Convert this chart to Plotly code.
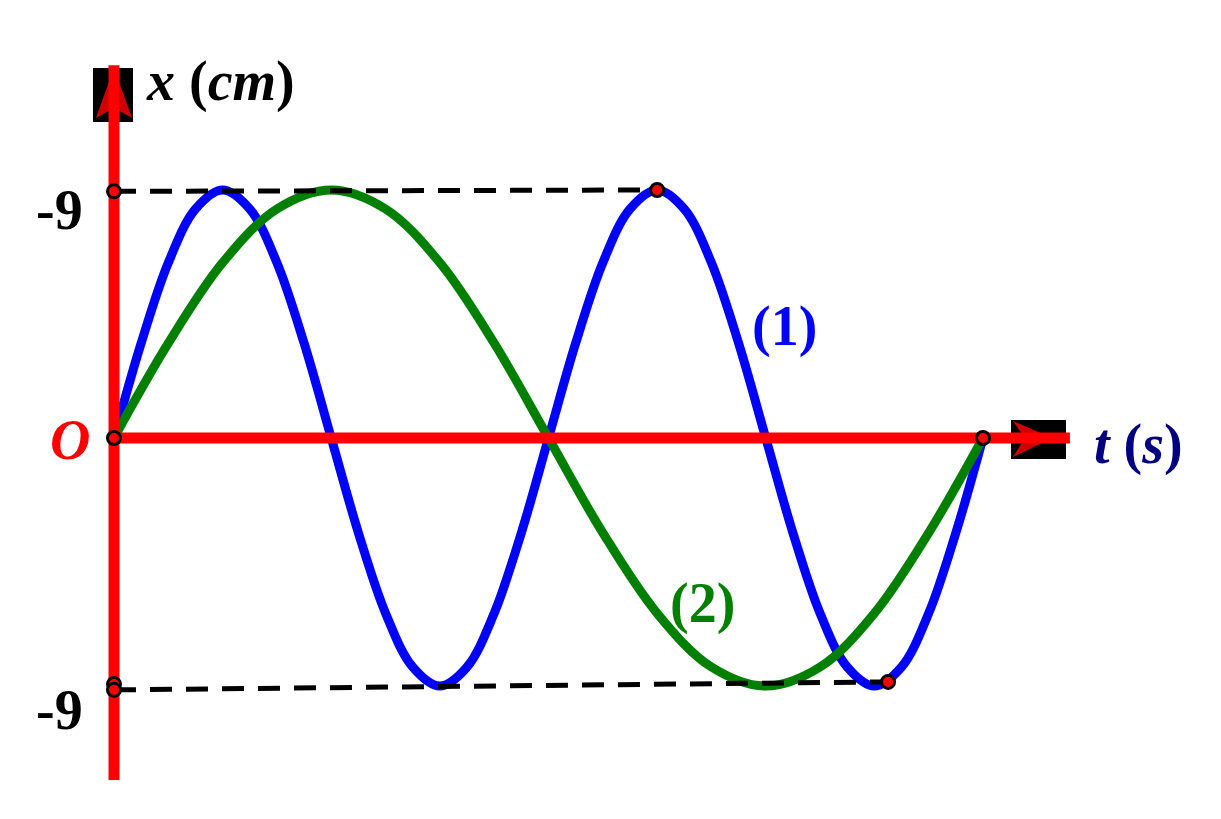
import plotly.graph_objects as go

# ---- data ----
t_blue = [0, 0.125, 0.25, 0.375, 0.5, 0.625, 0.75, 0.875, 1.0, 1.125, 1.25, 1.375, 1.5, 1.625, 1.75, 1.875,
          2.0, 2.125, 2.25, 2.375, 2.5, 2.625, 2.75, 2.875, 3.0, 3.125, 3.25, 3.375, 3.5, 3.625, 3.75, 3.875, 4.0]
x_blue = [0, 3.44, 6.36, 8.31, 9, 8.31, 6.36, 3.44, 0, -3.44, -6.36, -8.31, -9, -8.31, -6.36, -3.44,
          0, 3.44, 6.36, 8.31, 9, 8.31, 6.36, 3.44, 0, -3.44, -6.36, -8.31, -9, -8.31, -6.36, -3.44, 0]
t_green = [0, 0.25, 0.5, 0.75, 1.0, 1.25, 1.5, 1.75, 2.0, 2.25, 2.5, 2.75, 3.0, 3.25, 3.5, 3.75, 4.0]
x_green = [0, 3.44, 6.36, 8.31, 9, 8.31, 6.36, 3.44, 0, -3.44, -6.36, -8.31, -9, -8.31, -6.36, -3.44, 0]

dash_top_t = [0, 2.5]
dash_top_x = [8.95, 9.0]
dash_bot_t = [0, 3.563]
dash_bot_x = [-9.14, -8.85]

pts_t = [0, 2.5, 0, 4.0, 0, 0, 3.563]
pts_x = [8.95, 9.0, 0, 0, -8.93, -9.14, -8.85]

tick_label = "-9"

# ---- figure ----
X_RANGE = [-0.5247, 5.0955]
Y_RANGE = [-13.826, 15.894]
FONT = "Liberation Serif"
FS = 56

fig = go.Figure()

fig.add_trace(go.Scatter(x=t_blue, y=x_blue, mode="lines",
                         line=dict(color="#0000ff", width=9, shape="spline", smoothing=1.0),
                         hoverinfo="skip"))
fig.add_trace(go.Scatter(x=t_green, y=x_green, mode="lines",
                         line=dict(color="#007f00", width=9, shape="spline", smoothing=1.0),
                         hoverinfo="skip"))

# red axes
fig.add_trace(go.Scatter(x=[0, 0], y=[-12.41, 13.53], mode="lines",
                         line=dict(color="#ff0000", width=11), hoverinfo="skip"))
fig.add_trace(go.Scatter(x=[0, 4.40], y=[0, 0], mode="lines",
                         line=dict(color="#ff0000", width=11), hoverinfo="skip"))

# dashed guide lines
for tt, xx in [(dash_top_t, dash_top_x), (dash_bot_t, dash_bot_x)]:
    fig.add_trace(go.Scatter(x=tt, y=xx, mode="lines",
                             line=dict(color="black", width=5, dash="22px,14px"),
                             hoverinfo="skip"))

# points
fig.add_trace(go.Scatter(x=pts_t, y=pts_x, mode="markers",
                         marker=dict(color="#ff0000", size=13, line=dict(color="black", width=3)),
                         hoverinfo="skip"))

# arrow boxes and heads (below the traces)
shapes = [
    dict(type="rect", x0=-0.0967, x1=0.0875, y0=11.47, y1=13.43,
         fillcolor="black", line=dict(width=0), layer="below"),
    dict(type="path", path="M 0,13.43 L 0.083,11.61 L 0,11.98 L -0.083,11.61 Z",
         fillcolor="#d00000", line=dict(width=0), layer="below"),
    dict(type="rect", x0=4.129, x1=4.382, y0=-0.762, y1=0.653,
         fillcolor="black", line=dict(width=0), layer="below"),
    dict(type="path", path="M 4.138,0.617 L 4.318,0 L 4.138,-0.69 L 4.193,0 Z",
         fillcolor="#d00000", line=dict(width=0), layer="below"),
]

ann = [
    dict(x=0.488, y=12.92, text="<b><i>x</i> (<i>cm</i>)</b>", color="black"),
    dict(x=-0.249, y=8.27, text="<b>" + tick_label + "</b>", color="black"),
    dict(x=-0.249, y=-9.87, text="<b>" + tick_label + "</b>", color="black"),
    dict(x=-0.2025, y=-0.07, text="<b><i>O</i></b>", color="#ff0000"),
    dict(x=4.718, y=-0.25, text="<b><i>t</i> (<i>s</i>)</b>", color="#000080"),
    dict(x=3.088, y=4.06, text="<b>(1)</b>", color="#0000ff"),
    dict(x=2.711, y=-6.02, text="<b>(2)</b>", color="#007f00"),
]
annotations = [dict(x=a["x"], y=a["y"], xref="x", yref="y", text=a["text"], showarrow=False,
                    xanchor="center", yanchor="middle",
                    font=dict(family=FONT, size=FS, color=a["color"])) for a in ann]

fig.update_layout(
    width=1221, height=819, autosize=False,
    margin=dict(l=0, r=0, t=0, b=0),
    paper_bgcolor="white", plot_bgcolor="white",
    showlegend=False,
    xaxis=dict(range=X_RANGE, visible=False, fixedrange=True),
    yaxis=dict(range=Y_RANGE, visible=False, fixedrange=True),
    shapes=shapes, annotations=annotations,
)

fig.write_html("out.html", config={"displayModeBar": False},
               post_script="document.body.style.margin='0px';document.body.style.overflow='hidden';")
